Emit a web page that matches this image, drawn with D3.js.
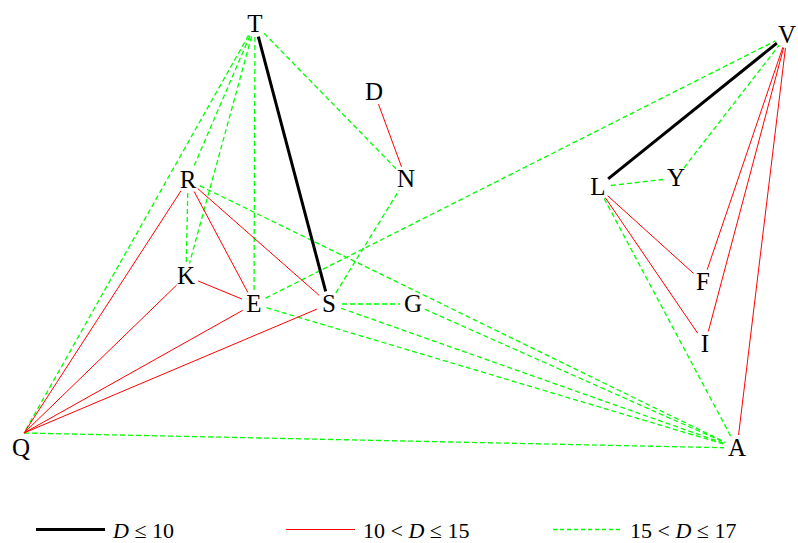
<!DOCTYPE html>
<html>
<head>
<meta charset="utf-8">
<script src="https://cdnjs.cloudflare.com/ajax/libs/d3/7.8.5/d3.min.js"></script>
<style>
  body { margin: 0; background: #fff; }
</style>
</head>
<body>
<div id="chartArea"></div>
<script>
// node layout (graph coordinates)
var nodeNames = ["T", "D", "R", "N", "K", "E", "S", "G", "Q", "A", "L", "Y", "V", "F", "I"];
var nodeX     = [255, 374, 188, 406, 186, 254, 329, 413,  24, 737, 598, 676, 787, 703, 705];
var nodeY     = [ 24,  92, 180, 179, 276, 304, 304, 304, 433, 448, 187, 178,  35, 282, 344];

// edges by distance class
var edgesNear = [["T","S"], ["L","V"]];                       // D <= 10
var edgesMid  = [["D","N"], ["R","E"], ["R","S"], ["K","E"],  // 10 < D <= 15
                 ["Q","R"], ["Q","K"], ["Q","E"], ["Q","S"],
                 ["L","F"], ["L","I"], ["V","F"], ["V","I"], ["V","A"]];
var edgesFar  = [["T","Q"], ["T","R"], ["T","K"], ["T","E"],  // 15 < D <= 17
                 ["T","N"], ["R","K"], ["R","A"], ["E","V"],
                 ["S","N"], ["S","G"], ["S","A"], ["E","A"],
                 ["G","A"], ["Q","A"], ["L","Y"], ["Y","V"], ["L","A"]];

var legendLabels = ["D \u2264 10", "10 < D \u2264 15", "15 < D \u2264 17"];

var width = 798, height = 543;
var serif = "'Liberation Serif', 'Times New Roman', Times, serif";
var xscale = d3.scaleLinear().domain([0, 798]).range([0, width]);
var yscale = d3.scaleLinear().domain([0, 543]).range([0, height]);

var nodes = {};
nodeNames.forEach(function(n, i) { nodes[n] = {x: nodeX[i], y: nodeY[i]}; });

var svg = d3.select("#chartArea").append("svg")
    .attr("width", width)
    .attr("height", height)
    .attr("font-family", serif);

svg.append("rect").attr("width", width).attr("height", height).attr("fill", "#fff");

// shorten each edge so it stops short of the letters
function trimmed(e) {
    var a = nodes[e[0]], b = nodes[e[1]];
    var x1 = xscale(a.x), y1 = yscale(a.y), x2 = xscale(b.x), y2 = yscale(b.y);
    var len = Math.sqrt((x2 - x1) * (x2 - x1) + (y2 - y1) * (y2 - y1));
    var ux = (x2 - x1) / len, uy = (y2 - y1) / len;
    var g1 = e[0] == "Q" ? 0 : 13, g2 = e[1] == "Q" ? 0 : 13;
    return {x1: x1 + ux * g1, y1: y1 + uy * g1, x2: x2 - ux * g2, y2: y2 - uy * g2};
}

var styles = [
    {data: edgesFar,  stroke: "#00ff00", w: 1.3, dash: "5,3"},
    {data: edgesMid,  stroke: "#ff0000", w: 1, dash: null},
    {data: edgesNear, stroke: "#000000", w: 3, dash: null}
];

styles.forEach(function(s) {
    svg.append("g").selectAll("line").data(s.data).enter().append("line")
        .attr("x1", function(d) { return trimmed(d).x1; })
        .attr("y1", function(d) { return trimmed(d).y1; })
        .attr("x2", function(d) { return trimmed(d).x2; })
        .attr("y2", function(d) { return trimmed(d).y2; })
        .attr("stroke", s.stroke)
        .attr("stroke-width", s.w)
        .attr("stroke-dasharray", s.dash);
});

// node letters
svg.append("g").selectAll("text").data(nodeNames).enter().append("text")
    .attr("x", function(d) { return xscale(nodes[d].x) + (d == "Q" ? -3 : 0); })
    .attr("y", function(d) { return yscale(nodes[d].y) + (d == "Q" ? 15 : 0); })
    .attr("dy", "0.33em")
    .attr("text-anchor", "middle")
    .attr("font-family", serif)
    .attr("font-size", 25)
    .attr("fill", "#000")
    .text(function(d) { return d; });

// legend
var legendX = [36, 286, 553];
var legend = svg.append("g");
styles.slice().reverse().forEach(function(s, i) {
    legend.append("line")
        .attr("x1", legendX[i]).attr("x2", legendX[i] + 69)
        .attr("y1", 529.5).attr("y2", 529.5)
        .attr("stroke", s.stroke)
        .attr("stroke-width", s.w)
        .attr("stroke-dasharray", s.dash ? "4,3" : null);
    var t = legend.append("text")
        .attr("x", legendX[i] + 77)
        .attr("y", 538)
        .attr("font-family", serif)
        .attr("font-size", 22);
    var parts = legendLabels[i].split("D");
    t.append("tspan").text(parts[0]);
    t.append("tspan").attr("font-style", "italic").text("D");
    t.append("tspan").text(parts[1]);
});
</script>
</body>
</html>
